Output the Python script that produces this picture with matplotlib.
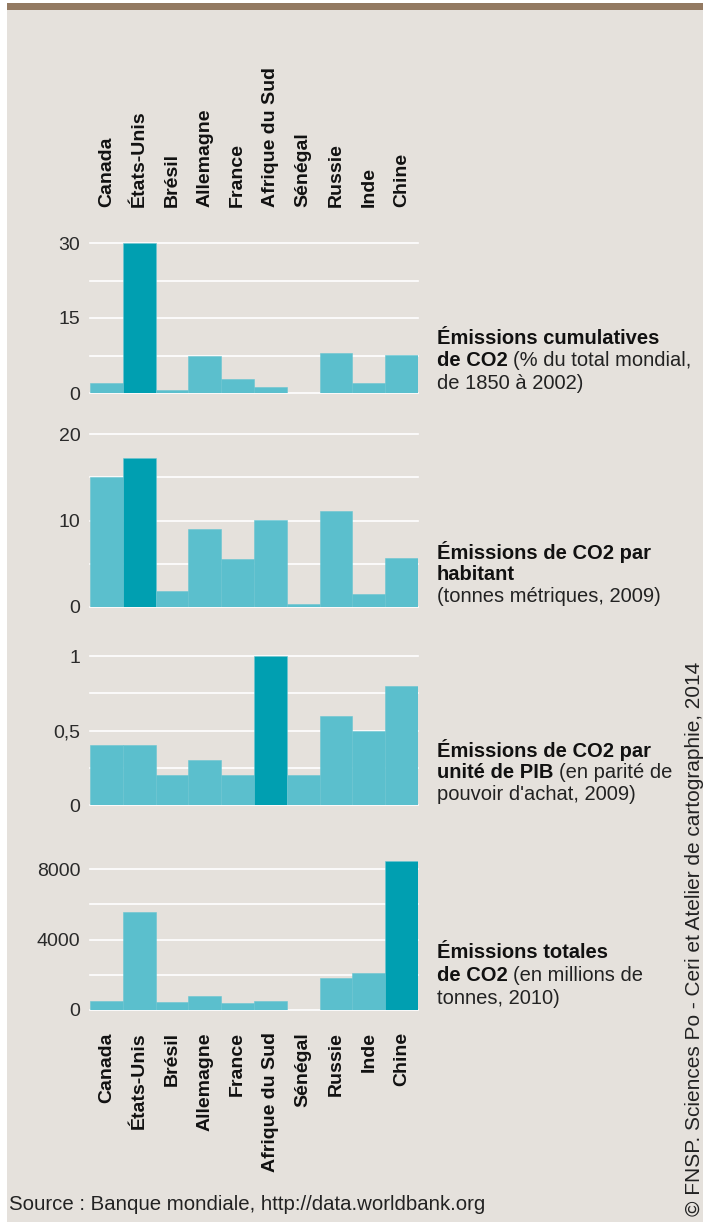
import numpy as np
import matplotlib
matplotlib.use("Agg")
import matplotlib.pyplot as plt
from matplotlib.patches import Rectangle

plt.rcParams['font.family'] = ['Liberation Sans', 'DejaVu Sans']

# data
countries = ["Canada", "États-Unis", "Brésil", "Allemagne", "France",
             "Afrique du Sud", "Sénégal", "Russie", "Inde", "Chine"]
cumul = [2.0, 30.0, 0.6, 7.4, 2.8, 1.2, 0.0, 8.1, 2.1, 7.6]          # % du total mondial
par_hab = [15.1, 17.3, 1.8, 9.0, 5.5, 10.1, 0.3, 11.1, 1.5, 5.7]     # tonnes / habitant
par_pib = [0.4, 0.4, 0.2, 0.3, 0.2, 1.0, 0.2, 0.6, 0.5, 0.8]         # par unité de PIB
totales = [510, 5580, 440, 790, 380, 490, 7, 1830, 2080, 8470]        # millions de tonnes

grid1 = [0, 7.5, 15, 22.5, 30]
grid2 = [0, 5, 10, 15, 20]
grid3 = [0, 0.25, 0.5, 0.75, 1]
grid4 = [0, 2000, 4000, 6000, 8000]
ticks1, labels1 = [0, 15, 30], ["0", "15", "30"]
ticks2, labels2 = [0, 10, 20], ["0", "10", "20"]
ticks3, labels3 = [0, 0.5, 1], ["0", "0,5", "1"]
ticks4, labels4 = [0, 4000, 8000], ["0", "4000", "8000"]

titles = [
    [[("Émissions cumulatives", True)],
     [("de CO2", True), ("(% du total mondial,", False)],
     [("de 1850 à 2002)", False)]],
    [[("Émissions de CO2 par", True)],
     [("habitant", True)],
     [("(tonnes métriques, 2009)", False)]],
    [[("Émissions de CO2 par", True)],
     [("unité de PIB", True), ("(en parité de", False)],
     [("pouvoir d'achat, 2009)", False)]],
    [[("Émissions totales", True)],
     [("de CO2", True), ("(en millions de", False)],
     [("tonnes, 2010)", False)]],
]

W, H = 703, 1222
bg = "#e5e1dc"
light = "#5bbfcd"
dark = "#009fb1"

fig = plt.figure(figsize=(W / 100, H / 100), dpi=100)
fig.patch.set_facecolor("white")


def fx(x):
    return x / W


def fy(y):
    return 1 - y / H


fig.patches.append(Rectangle((fx(7), 0), 1 - fx(7), fy(10), transform=fig.transFigure,
                             facecolor=bg, edgecolor="none", zorder=-10))
fig.patches.append(Rectangle((fx(7), fy(10)), 1 - fx(7), 6.5 / H, transform=fig.transFigure,
                             facecolor="#937a62", edgecolor="none", zorder=-9))

# (pixel of zero, pixel of top grid line, value of top grid line, upper limit)
panels = [
    (cumul, grid1, ticks1, labels1, 393, 243, 30, 31),
    (par_hab, grid2, ticks2, labels2, 606.7, 434.3, 20, 20.6),
    (par_pib, grid3, ticks3, labels3, 805, 656, 1, 1.03),
    (totales, grid4, ticks4, labels4, 1010, 869, 8000, 8650),
]
text_y = [338, 552, 750, 953]

x_left, x_right = 90, 418
axes = []
for k, (vals, grid, ticks, labs, y0, ytop, vtop, vlim) in enumerate(panels):
    scale = (y0 - ytop) / vtop
    top_px = y0 - vlim * scale
    ax = fig.add_axes([fx(x_left), fy(y0), (x_right - x_left) / W, (y0 - top_px) / H])
    ax.set_facecolor("none")
    x = np.arange(len(vals))
    hi = int(np.argmax(vals))
    colors = [dark if i == hi else light for i in range(len(vals))]
    ax.bar(x, vals, width=1.0, color=colors, edgecolor="#6ac6d2", linewidth=0.4, zorder=2)
    for g in grid:
        ax.axhline(g, color="white", lw=1.2, zorder=1, clip_on=False)
    ax.set_xlim(-0.5, len(vals) - 0.5)
    ax.set_ylim(0, vlim)
    ax.set_yticks(ticks)
    ax.set_yticklabels(labs)
    ax.tick_params(axis="y", length=0, pad=7, labelsize=14, labelcolor="#2a2a2a")
    for s in ax.spines.values():
        s.set_visible(False)
    ax.set_xticks([])
    axes.append(ax)

# country labels, top and bottom
ax_top = axes[0]
ax_top.set_xticks(np.arange(len(countries)))
ax_top.set_xticklabels(countries, rotation=90, fontsize=14, fontweight="bold", color="#111111")
ax_top.xaxis.tick_top()
ax_top.tick_params(axis="x", length=0, pad=22)

ax_bot = axes[3]
ax_bot.set_xticks(np.arange(len(countries)))
ax_bot.set_xticklabels(countries, rotation=90, fontsize=14, fontweight="bold", color="#111111")
ax_bot.tick_params(axis="x", length=0, pad=16)

# right-hand titles with mixed weights
fig.canvas.draw()
renderer = fig.canvas.get_renderer()
fs = 14.5
space_px = 0.278 * fs * 100 / 72
for k, lines in enumerate(titles):
    for j, parts in enumerate(lines):
        xp = 437
        yp = text_y[k] + j * 22.5
        for txt, bold in parts:
            t = fig.text(fx(xp), fy(yp), txt, fontsize=fs, va="center", ha="left",
                         fontweight="bold" if bold else "normal",
                         color="#111111" if bold else "#222222")
            bb = t.get_window_extent(renderer)
            xp = bb.x1 + space_px

fig.text(fx(9), fy(1205), "Source : Banque mondiale, http://data.worldbank.org",
         fontsize=14.7, color="#222222", va="center", ha="left")
fig.text(fx(694), fy(1216), "© FNSP. Sciences Po - Ceri et Atelier de cartographie, 2014",
         fontsize=15, color="#222222", rotation=90, va="center", ha="left",
         rotation_mode="anchor")

fig.savefig("out.png", dpi=100, facecolor=fig.get_facecolor())
